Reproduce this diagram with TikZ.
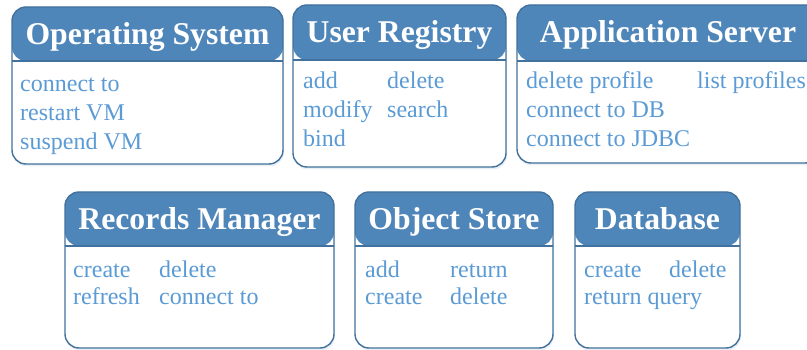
\documentclass[tikz,border=0pt]{standalone}
\usepackage{fontspec}
\setmainfont{Liberation Serif}
\usetikzlibrary{shadows}
\definecolor{head}{HTML}{4F86BA}
\definecolor{edge}{HTML}{41719C}
\definecolor{itemc}{HTML}{5B9BD5}
\tikzset{
  card/.style={draw=edge, line width=1.4pt, rounded corners=14pt, fill=white,
    inner sep=0pt, outer sep=0pt, anchor=north west,
    drop shadow={opacity=0.18, shadow xshift=1pt, shadow yshift=-2.5pt, fill=edge!60},
    path picture={
      \fill[head] (path picture bounding box.north west) rectangle ([yshift=-#1pt]path picture bounding box.north east);
      \draw[edge, line width=1.4pt] ([yshift=-#1pt]path picture bounding box.north west) -- ([yshift=-#1pt]path picture bounding box.north east);
    }},
  title/.style={anchor=base, inner sep=0pt, text=white, font=\fontsize{31.7}{36}\selectfont\bfseries},
  entry/.style={anchor=base west, inner sep=0pt, text=itemc, font=\fontsize{24}{28}\selectfont}
}
\begin{document}
\begin{tikzpicture}[x=1pt, y=-1pt]
\path[use as bounding box, clip] (0,0) rectangle (807,350);
% Operating System
\node[card=54, minimum width=271pt, minimum height=157pt] (os) at (12,7) {};
\node[title] (os-t) at (147.5,45) {Operating System};
\node[entry] (os-1) at (20,92) {connect to};
\node[entry] (os-2) at (20,121) {restart VM};
\node[entry] (os-3) at (20,150) {suspend VM};
% User Registry
\node[card=55, minimum width=213pt, minimum height=162pt] (ur) at (293,5) {};
\node[title] (ur-t) at (399.5,43) {User Registry};
\node[entry] (ur-1) at (303,89) {add};
\node[entry] (ur-2) at (387,89) {delete};
\node[entry] (ur-3) at (303,118) {modify};
\node[entry] (ur-4) at (387,118) {search};
\node[entry] (ur-5) at (303,147) {bind};
% Application Server
\node[card=56, minimum width=302pt, minimum height=158pt] (as) at (517,5) {};
\node[title] (as-t) at (668,43) {Application Server};
\node[entry] (as-1) at (526,89) {delete profile};
\node[entry] (as-2) at (697,89) {list profiles};
\node[entry] (as-3) at (526,118) {connect to DB};
\node[entry] (as-4) at (526,147) {connect to JDBC};
% Records Manager
\node[card=54, minimum width=269pt, minimum height=156pt] (rm) at (65,192) {};
\node[title] (rm-t) at (199.5,230) {Records Manager};
\node[entry] (rm-1) at (73,277) {create};
\node[entry] (rm-2) at (159,277) {delete};
\node[entry] (rm-3) at (73,305) {refresh};
\node[entry] (rm-4) at (159,305) {connect to};
% Object Store
\node[card=54, minimum width=198pt, minimum height=156pt] (ob) at (355,192) {};
\node[title] (ob-t) at (454,230) {Object Store};
\node[entry] (ob-1) at (365,277) {add};
\node[entry] (ob-2) at (450,277) {return};
\node[entry] (ob-3) at (365,305) {create};
\node[entry] (ob-4) at (450,305) {delete};
% Database
\node[card=54, minimum width=165pt, minimum height=156pt] (db) at (575,192) {};
\node[title] (db-t) at (657.5,230) {Database};
\node[entry] (db-1) at (584,277) {create};
\node[entry] (db-2) at (669,277) {delete};
\node[entry] (db-3) at (584,305) {return query};
\end{tikzpicture}
\end{document}
